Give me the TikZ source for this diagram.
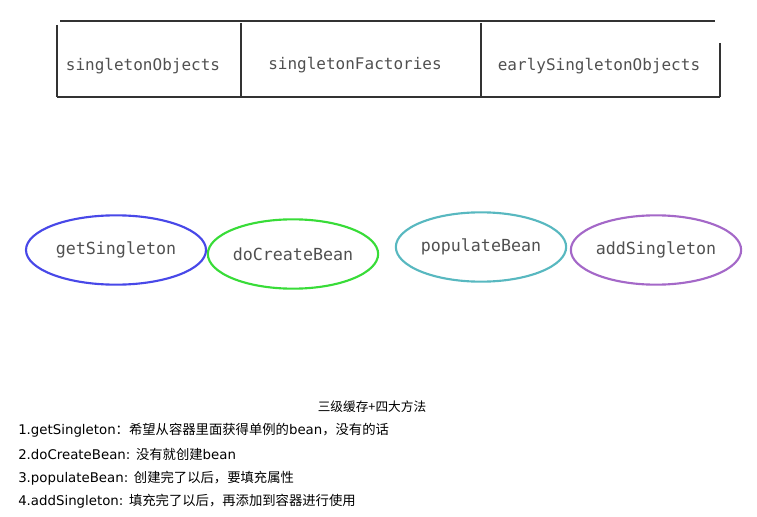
\documentclass[tikz,border=0pt]{standalone}
\usepackage{fontspec}
\usepackage{xcolor}
\setmainfont{DejaVu Sans}
\newfontfamily\cjk{Noto Sans CJK SC}
\newfontfamily\hand{DejaVu Sans Mono}
\usetikzlibrary{shapes.geometric,positioning}
\definecolor{MBlue}{HTML}{4848E8}
\definecolor{MGreen}{HTML}{38DC38}
\definecolor{MTeal}{HTML}{58B8C0}
\definecolor{MPurple}{HTML}{A468C8}
\definecolor{MInk}{HTML}{505050}
\newcommand{\zh}[1]{{\cjk #1}}

\begin{document}
\begin{tikzpicture}[
    x=0.75pt, y=-0.75pt,
    cell/.style={font=\hand\fontsize{12}{14}\selectfont, text=MInk, inner sep=0pt},
    rim/.style={line width=1.3pt, draw=black!80},
    method/.style={ellipse, line width=1.6pt, minimum width=127pt, minimum height=52pt,
      font=\hand\fontsize{12.5}{14}\selectfont, text=MInk, inner sep=0pt},
    note/.style={font=\fontsize{10}{12}\selectfont, anchor=west, inner sep=0pt},
  ]
    \useasboundingbox (0,0) rectangle (757,517);

    % ---- cache table ----
    \draw[rim] (60,21) -- (715,21);
    \draw[rim] (57,97) -- (720,97);
    \draw[rim] (57,25) -- (57,97);
    \draw[rim] (720,43) -- (720,97);
    \draw[line width=1pt, draw=black!80] (241,23) -- (241,97);
    \draw[line width=1pt, draw=black!80] (481,23) -- (481,97);
    \node[cell] (objects) at (143,66) {singletonObjects};
    \node[cell] (factories) at (355,65) {singletonFactories};
    \node[cell] (early) at (599,66) {earlySingletonObjects};

    % ---- methods ----
    \node[method, draw=MBlue, minimum width=135pt] (getS) at (116,250) {getSingleton};
    \node[method, draw=MGreen] (create) at (293,254) {doCreateBean};
    \node[method, draw=MTeal] (populate) at (481,247) {populateBean};
    \node[method, draw=MPurple] (addS) at (656,250) {addSingleton};

    % ---- notes ----
    \node[font=\cjk\fontsize{9.5}{11}\selectfont, inner sep=0pt] (title) at (372,407) {三级缓存+四大方法};
    \node[note] (n1) at (18,430) {1.getSingleton\zh{：希望从容器里面获得单例的}bean\zh{，没有的话}};
    \node[note] (n2) at (18,454) {2.doCreateBean: \zh{没有就创建}bean};
    \node[note] (n3) at (18,478) {3.populateBean: \zh{创建完了以后，要填充属性}};
    \node[note] (n4) at (18,501) {4.addSingleton: \zh{填充完了以后，再添加到容器进行使用}};
  \end{tikzpicture}
\end{document}
